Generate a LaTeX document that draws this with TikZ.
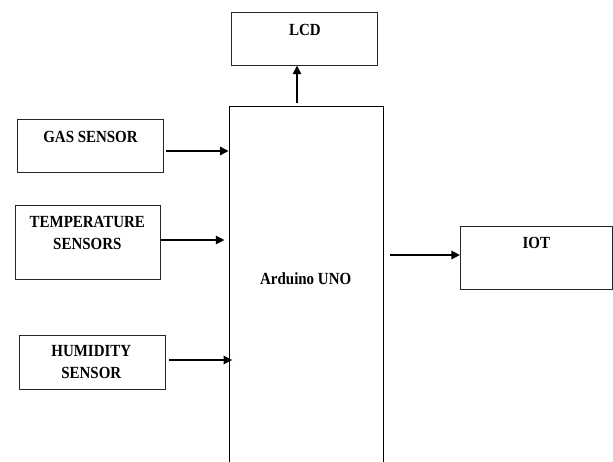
\documentclass[tikz,border=0pt]{standalone}
\usepackage{fontspec}
\setmainfont{Liberation Serif}
\newfontfamily\lblfont[FakeStretch=0.88]{Liberation Serif}
\usetikzlibrary{arrows.meta}
\begin{document}
\begin{tikzpicture}[x=1pt,y=-1pt,
  box/.style={draw=black!85,line width=0.8pt,inner sep=0pt},
  mainbox/.style={draw=black,line width=1pt,inner sep=0pt},
  lbl/.style={font=\lblfont\fontsize{17}{22}\selectfont\bfseries,align=center,inner sep=0pt},
  arr/.style={line width=1.5pt,-{Triangle[length=8.5pt,width=8.5pt]}}]
\clip (0,0) rectangle (613,461);
\fill[white] (0,0) rectangle (613,461);
% boxes
\node[box,minimum width=146pt,minimum height=53.4pt] (lcd) at (304.7,39) {};
\node[box,minimum width=145.6pt,minimum height=53.4pt] (gas) at (90.5,146) {};
\node[box,minimum width=145.5pt,minimum height=73.6pt] (temp) at (87.75,242.5) {};
\node[box,minimum width=146.4pt,minimum height=53.3pt] (hum) at (92.1,362.35) {};
\node[box,minimum width=152.3pt,minimum height=62.6pt] (iot) at (536.45,258) {};
\node[mainbox,minimum width=154pt,minimum height=374pt] (ard) at (306,293) {};
% labels
\node[lbl] (lcdt) at (305,29.7) {LCD};
\node[lbl] (gast) at (90.5,136.7) {GAS SENSOR};
\node[lbl] (tempt) at (87.3,233) {TEMPERATURE\\SENSORS};
\node[lbl] (humt) at (91.3,362.5) {HUMIDITY\\SENSOR};
\node[lbl] (iott) at (536.3,243.3) {IOT};
\node[lbl] (ardt) at (305.7,278.3) {Arduino UNO};
% connectors
\coordinate (lcdin) at (297,65.7);
\draw[arr] (lcdin |- 0,103.3) -- (lcdin);
\draw[arr] (166,151) -- (ard.west |- 0,151);
\draw[arr] (161.3,240) -- (224.3,240);
\draw[arr] (169.2,360) -- (232.1,360);
\draw[arr] (389.5,255) -- (iot.west |- 0,255);
\end{tikzpicture}
\end{document}
